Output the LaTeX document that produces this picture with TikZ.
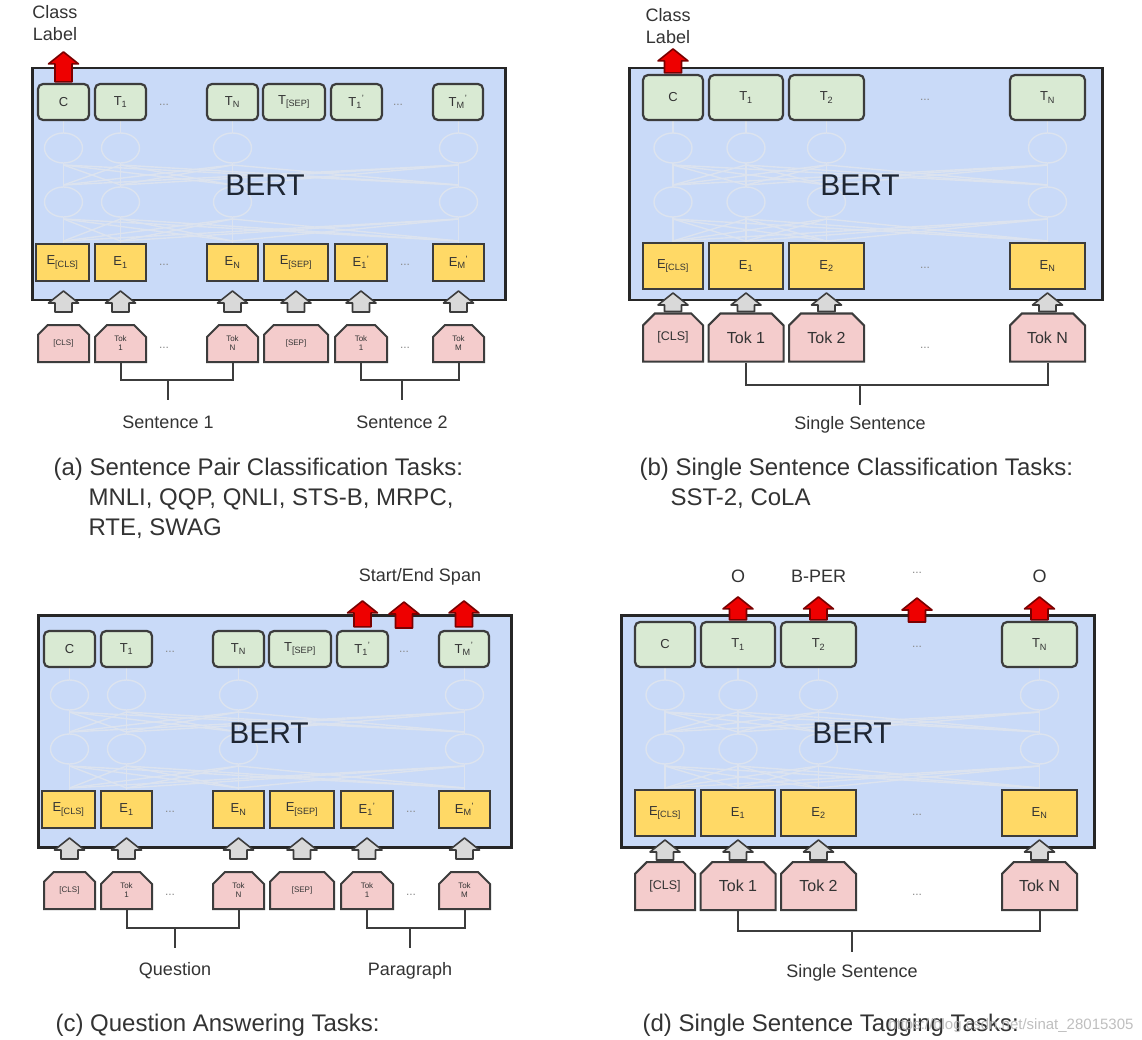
\documentclass[tikz,border=0pt]{standalone}
\usepackage{fontspec}
\setmainfont{Liberation Sans}
\usetikzlibrary{calc,shapes.misc}
\definecolor{bluebg}{HTML}{C9DAF8}
\definecolor{tgreen}{HTML}{D9EAD3}
\definecolor{eyellow}{HTML}{FFD966}
\definecolor{kpink}{HTML}{F4CCCC}
\definecolor{garrc}{HTML}{D9D9D9}
\definecolor{nodeb}{HTML}{3C3C3C}
\definecolor{boxc}{HTML}{262626}
\definecolor{nnc}{HTML}{DCE3EF}
\definecolor{txtc}{HTML}{333333}
\definecolor{bertc}{HTML}{1E2633}
\definecolor{dotc}{HTML}{8A8A8A}
\definecolor{redf}{HTML}{EE0000}
\definecolor{redb}{HTML}{7A0000}
\definecolor{wmc}{HTML}{B4B4B4}
\newcommand\fsz[2]{\fontsize{#1}{#2}\selectfont}
\newcommand\tpr[2]{#1\textsubscript{#2}\textsuperscript{'}}
\newcommand\blockup[3]{\draw[#1] let \p1=#2, \p2=#3 in
 (\x1-8.5pt,\y1) -- (\x1-8.5pt,\y2-12pt) -- (\x1-15pt,\y2-12pt) -- (\x1,\y2) --
 (\x1+15pt,\y2-12pt) -- (\x1+8.5pt,\y2-12pt) -- (\x1+8.5pt,\y1) -- cycle;}
\newcommand\nnet[1]{%
 \foreach \cx in {#1}{%
  \draw[nn] (\cx,53) -- (\cx,66) (\cx,96) -- (\cx,120) (\cx,150) -- (\cx,176);
  \draw[nn] (\cx,81) ellipse [x radius=19, y radius=15];
  \draw[nn] (\cx,135) ellipse [x radius=19, y radius=15];
  \foreach \dx in {#1}{\draw[nn] (\cx,98) -- (\dx,118) (\cx,152) -- (\dx,174);}
 }}
\tikzset{
 bertbox/.style={draw=boxc, line width=2.5pt, fill=bluebg, inner sep=0pt},
 tnode/.style={draw=nodeb, line width=2.2pt, fill=tgreen, rounded corners=5pt, inner sep=0pt, font=\fsz{13}{15}, text=txtc},
 enode/.style={draw=nodeb, line width=2pt, fill=eyellow, inner sep=0pt, font=\fsz{13}{15}, text=txtc},
 knode/.style={chamfered rectangle, chamfered rectangle corners={north east,north west},
   chamfered rectangle xsep=6pt, chamfered rectangle ysep=6pt, draw=nodeb, line width=2pt,
   fill=kpink, inner sep=0pt, text=txtc, align=center},
 ta/.style={tnode, minimum height=36},
 ea/.style={enode, minimum height=37},
 ka/.style={knode, minimum height=37, font=\fsz{8}{9}},
 tb/.style={tnode, minimum height=45},
 eb/.style={enode, minimum height=46},
 kb/.style={knode, minimum height=48, font=\fsz{16}{19}},
 kbs/.style={knode, minimum height=48, font=\fsz{12.5}{15}},
 dotn/.style={text=dotc, font=\fsz{12}{14}},
 garr/.style={draw=nodeb, line width=1.6pt, fill=garrc, line join=round},
 rarr/.style={draw=redb, line width=1.6pt, fill=redf, line join=round},
 nn/.style={draw=nnc, line width=1.4pt},
 brk/.style={draw=nodeb, line width=2pt},
 bert/.style={font=\fsz{30}{36}, text=bertc},
 lab/.style={font=\fsz{18}{22}, text=txtc, align=center},
 captext/.style={font=\fsz{24}{28}, text=txtc, anchor=base west},
 wm/.style={font=\fsz{15}{18}, text=wmc, anchor=base east, opacity=0.85},
}
\begin{document}
\begin{tikzpicture}[x=1pt,y=-1pt]
\fill[white] (0,0) rectangle (1142,1040);
\useasboundingbox (0,0) rectangle (1142,1040);
% ================= (a)
\begin{scope}[shift={(31,67)}]
\node[bertbox, minimum width=473, minimum height=232, anchor=north west] (aBox) at (0,0) {};
\nnet{32.5,89.5,201.5,427.5}
\node[bert] (aBert) at (234,118) {BERT};
\node[ta, minimum width=51] (aC) at (32.5,35) {C};
\node[ta, minimum width=51] (aT1) at (89.5,35) {T\textsubscript{1}};
\node[dotn] (aTd1) at (133,38) {...};
\node[ta, minimum width=51] (aTN) at (201.5,35) {T\textsubscript{N}};
\node[ta, minimum width=62] (aTS) at (263,35) {T\textsubscript{[SEP]}};
\node[ta, minimum width=51] (aT1p) at (325.5,35) {\tpr{T}{1}};
\node[dotn] (aTd2) at (367,38) {...};
\node[ta, minimum width=50] (aTM) at (427,35) {\tpr{T}{M}};
\node[ea, minimum width=53] (aEC) at (31.5,195.5) {E\textsubscript{[CLS]}};
\node[ea, minimum width=51] (aE1) at (89.5,195.5) {E\textsubscript{1}};
\node[dotn] (aEd1) at (133,198) {...};
\node[ea, minimum width=51] (aEN) at (201.5,195.5) {E\textsubscript{N}};
\node[ea, minimum width=64] (aES) at (265,195.5) {E\textsubscript{[SEP]}};
\node[ea, minimum width=52] (aE1p) at (330,195.5) {\tpr{E}{1}};
\node[dotn] (aEd2) at (374,198) {...};
\node[ea, minimum width=51] (aEM) at (427.5,195.5) {\tpr{E}{M}};
\node[ka, minimum width=51] (aKC) at (32.5,276.5) {[CLS]};
\node[ka, minimum width=51] (aK1) at (89.5,276.5) {Tok\\1};
\node[dotn] (aKd1) at (133,281) {...};
\node[ka, minimum width=51] (aKN) at (201.5,276.5) {Tok\\N};
\node[ka, minimum width=64] (aKS) at (265,276.5) {[SEP]};
\node[ka, minimum width=52] (aK1p) at (330,276.5) {Tok\\1};
\node[dotn] (aKd2) at (374,281) {...};
\node[ka, minimum width=51] (aKM) at (427.5,276.5) {Tok\\M};
\blockup{garr}{($(aKC.north)+(0,-12)$)}{($(aEC.south)+(0,9)$)}
\blockup{garr}{($(aK1.north)+(0,-12)$)}{($(aE1.south)+(0,9)$)}
\blockup{garr}{($(aKN.north)+(0,-12)$)}{($(aEN.south)+(0,9)$)}
\blockup{garr}{($(aKS.north)+(0,-12)$)}{($(aES.south)+(0,9)$)}
\blockup{garr}{($(aK1p.north)+(0,-12)$)}{($(aE1p.south)+(0,9)$)}
\blockup{garr}{($(aKM.north)+(0,-12)$)}{($(aEM.south)+(0,9)$)}
\blockup{rarr}{($(aC.north)+(0,-1)$)}{($(aC.north)+(0,-31)$)}
\node[lab] (aCL) at (24,-44) {Class\\Label};
\coordinate (aB1) at (137,313); \coordinate (aS1) at (137,333);
\coordinate (aB2) at (371,313); \coordinate (aS2) at (371,333);
\draw[brk] (aK1.south) |- (aB1) -| (aKN.south);
\draw[brk] (aB1) -- (aS1);
\draw[brk] (aK1p.south) |- (aB2) -| (aKM.south);
\draw[brk] (aB2) -- (aS2);
\node[lab] (aL1) at (137,355) {Sentence 1};
\node[lab] (aL2) at (371,355) {Sentence 2};
\end{scope}
\node[captext] (aCap1) at (50,475) {(a) Sentence Pair Classification Tasks:};
\node[captext] (aCap2) at (85,505) {MNLI, QQP, QNLI, STS-B, MRPC,};
\node[captext] (aCap3) at (85,535) {RTE, SWAG};
% ================= (b)
\begin{scope}[shift={(628,67)}]
\node[bertbox, minimum width=473, minimum height=232, anchor=north west] (bBox) at (0,0) {};
\nnet{45,118,198.5,419.5}
\node[bert] (bBert) at (232,118) {BERT};
\node[tb, minimum width=60] (bC) at (45,30.5) {C};
\node[tb, minimum width=74] (bT1) at (118,30.5) {T\textsubscript{1}};
\node[tb, minimum width=75] (bT2) at (198.5,30.5) {T\textsubscript{2}};
\node[dotn] (bTd) at (297,33) {...};
\node[tb, minimum width=75] (bTN) at (419.5,30.5) {T\textsubscript{N}};
\node[eb, minimum width=60] (bEC) at (45,199) {E\textsubscript{[CLS]}};
\node[eb, minimum width=74] (bE1) at (118,199) {E\textsubscript{1}};
\node[eb, minimum width=75] (bE2) at (198.5,199) {E\textsubscript{2}};
\node[dotn] (bEd) at (297,201) {...};
\node[eb, minimum width=75] (bEN) at (419.5,199) {E\textsubscript{N}};
\node[kbs, minimum width=60] (bKC) at (45,270.5) {[CLS]};
\node[kb, minimum width=75] (bK1) at (118,270.5) {Tok 1};
\node[kb, minimum width=75] (bK2) at (198.5,270.5) {Tok 2};
\node[dotn] (bKd) at (297,281) {...};
\node[kb, minimum width=75] (bKN) at (419.5,270.5) {Tok N};
\blockup{garr}{($(bKC.north)+(0,-1)$)}{($(bEC.south)+(0,3)$)}
\blockup{garr}{($(bK1.north)+(0,-1)$)}{($(bE1.south)+(0,3)$)}
\blockup{garr}{($(bK2.north)+(0,-1)$)}{($(bE2.south)+(0,3)$)}
\blockup{garr}{($(bKN.north)+(0,-1)$)}{($(bEN.south)+(0,3)$)}
\blockup{rarr}{($(bC.north)+(0,-1)$)}{($(bC.north)+(0,-25)$)}
\node[lab] (bCL) at (40,-40.5) {Class\\Label};
\coordinate (bB) at (232,318); \coordinate (bS) at (232,338);
\draw[brk] (bK1.south) |- (bB) -| (bKN.south);
\draw[brk] (bB) -- (bS);
\node[lab] (bL) at (232,358) {Single Sentence};
\end{scope}
\node[captext] (bCap1) at (636,475) {(b) Single Sentence Classification Tasks:};
\node[captext] (bCap2) at (667,505) {SST-2, CoLA};
% ================= (c)
\begin{scope}[shift={(37,614)}]
\node[bertbox, minimum width=473, minimum height=232, anchor=north west] (cBox) at (0,0) {};
\nnet{32.5,89.5,201.5,427.5}
\node[bert] (cBert) at (232,119) {BERT};
\node[ta, minimum width=51] (cC) at (32.5,35) {C};
\node[ta, minimum width=51] (cT1) at (89.5,35) {T\textsubscript{1}};
\node[dotn] (cTd1) at (133,38) {...};
\node[ta, minimum width=51] (cTN) at (201.5,35) {T\textsubscript{N}};
\node[ta, minimum width=62] (cTS) at (263,35) {T\textsubscript{[SEP]}};
\node[ta, minimum width=51] (cT1p) at (325.5,35) {\tpr{T}{1}};
\node[dotn] (cTd2) at (367,38) {...};
\node[ta, minimum width=50] (cTM) at (427,35) {\tpr{T}{M}};
\node[ea, minimum width=53] (cEC) at (31.5,195.5) {E\textsubscript{[CLS]}};
\node[ea, minimum width=51] (cE1) at (89.5,195.5) {E\textsubscript{1}};
\node[dotn] (cEd1) at (133,198) {...};
\node[ea, minimum width=51] (cEN) at (201.5,195.5) {E\textsubscript{N}};
\node[ea, minimum width=64] (cES) at (265,195.5) {E\textsubscript{[SEP]}};
\node[ea, minimum width=52] (cE1p) at (330,195.5) {\tpr{E}{1}};
\node[dotn] (cEd2) at (374,198) {...};
\node[ea, minimum width=51] (cEM) at (427.5,195.5) {\tpr{E}{M}};
\node[ka, minimum width=51] (cKC) at (32.5,276.5) {[CLS]};
\node[ka, minimum width=51] (cK1) at (89.5,276.5) {Tok\\1};
\node[dotn] (cKd1) at (133,281) {...};
\node[ka, minimum width=51] (cKN) at (201.5,276.5) {Tok\\N};
\node[ka, minimum width=64] (cKS) at (265,276.5) {[SEP]};
\node[ka, minimum width=52] (cK1p) at (330,276.5) {Tok\\1};
\node[dotn] (cKd2) at (374,281) {...};
\node[ka, minimum width=51] (cKM) at (427.5,276.5) {Tok\\M};
\blockup{garr}{($(cKC.north)+(0,-12)$)}{($(cEC.south)+(0,9)$)}
\blockup{garr}{($(cK1.north)+(0,-12)$)}{($(cE1.south)+(0,9)$)}
\blockup{garr}{($(cKN.north)+(0,-12)$)}{($(cEN.south)+(0,9)$)}
\blockup{garr}{($(cKS.north)+(0,-12)$)}{($(cES.south)+(0,9)$)}
\blockup{garr}{($(cK1p.north)+(0,-12)$)}{($(cE1p.south)+(0,9)$)}
\blockup{garr}{($(cKM.north)+(0,-12)$)}{($(cEM.south)+(0,9)$)}
\blockup{rarr}{($(cT1p.north)+(0,-3)$)}{($(cT1p.north)+(0,-29)$)}
\blockup{rarr}{($(cTd2)+(0,-24)$)}{($(cTd2)+(0,-50)$)}
\blockup{rarr}{($(cTM.north)+(0,-3)$)}{($(cTM.north)+(0,-29)$)}
\node[lab] (cSpan) at (383,-37) {Start/End Span};
\coordinate (cB1) at (138,314); \coordinate (cS1) at (138,334);
\coordinate (cB2) at (373,314); \coordinate (cS2) at (373,334);
\draw[brk] (cK1.south) |- (cB1) -| (cKN.south);
\draw[brk] (cB1) -- (cS1);
\draw[brk] (cK1p.south) |- (cB2) -| (cKM.south);
\draw[brk] (cB2) -- (cS2);
\node[lab] (cL1) at (138,357) {Question};
\node[lab] (cL2) at (373,357) {Paragraph};
\end{scope}
\node[captext] (cCap1) at (52,1031) {(c) Question Answering Tasks:};
% ================= (d)
\begin{scope}[shift={(620,614)}]
\node[bertbox, minimum width=473, minimum height=232, anchor=north west] (dBox) at (0,0) {};
\nnet{45,118,198.5,419.5}
\node[bert] (dBert) at (232,119) {BERT};
\node[tb, minimum width=60] (dC) at (45,30.5) {C};
\node[tb, minimum width=74] (dT1) at (118,30.5) {T\textsubscript{1}};
\node[tb, minimum width=75] (dT2) at (198.5,30.5) {T\textsubscript{2}};
\node[dotn] (dTd) at (297,33) {...};
\node[tb, minimum width=75] (dTN) at (419.5,30.5) {T\textsubscript{N}};
\node[eb, minimum width=60] (dEC) at (45,199) {E\textsubscript{[CLS]}};
\node[eb, minimum width=74] (dE1) at (118,199) {E\textsubscript{1}};
\node[eb, minimum width=75] (dE2) at (198.5,199) {E\textsubscript{2}};
\node[dotn] (dEd) at (297,201) {...};
\node[eb, minimum width=75] (dEN) at (419.5,199) {E\textsubscript{N}};
\node[kbs, minimum width=60] (dKC) at (45,272) {[CLS]};
\node[kb, minimum width=75] (dK1) at (118,272) {Tok 1};
\node[kb, minimum width=75] (dK2) at (198.5,272) {Tok 2};
\node[dotn] (dKd) at (297,281) {...};
\node[kb, minimum width=75] (dKN) at (419.5,272) {Tok N};
\blockup{garr}{($(dKC.north)+(0,-1)$)}{($(dEC.south)+(0,3)$)}
\blockup{garr}{($(dK1.north)+(0,-1)$)}{($(dE1.south)+(0,3)$)}
\blockup{garr}{($(dK2.north)+(0,-1)$)}{($(dE2.south)+(0,3)$)}
\blockup{garr}{($(dKN.north)+(0,-1)$)}{($(dEN.south)+(0,3)$)}
\blockup{rarr}{($(dT1.north)+(0,-1)$)}{($(dT1.north)+(0,-24)$)}
\blockup{rarr}{($(dT2.north)+(0,-1)$)}{($(dT2.north)+(0,-24)$)}
\blockup{rarr}{($(dTd)+(0,-25)$)}{($(dTd)+(0,-49)$)}
\blockup{rarr}{($(dTN.north)+(0,-1)$)}{($(dTN.north)+(0,-24)$)}
\node[lab] (dO1) at (118,-38) {O};
\node[lab] (dBP) at (198.5,-38) {B-PER};
\node[dotn] (dOd) at (297,-41) {...};
\node[lab] (dO2) at (419.5,-38) {O};
\coordinate (dB) at (232,317); \coordinate (dS) at (232,338);
\draw[brk] (dK1.south) |- (dB) -| (dKN.south);
\draw[brk] (dB) -- (dS);
\node[lab] (dL) at (232,359) {Single Sentence};
\end{scope}
\node[captext] (dCap1) at (639,1031) {(d) Single Sentence Tagging Tasks:};
\node[wm] (wmark) at (1137,1029) {https://blog.csdn.net/sinat\_28015305};
\end{tikzpicture}
\end{document}
